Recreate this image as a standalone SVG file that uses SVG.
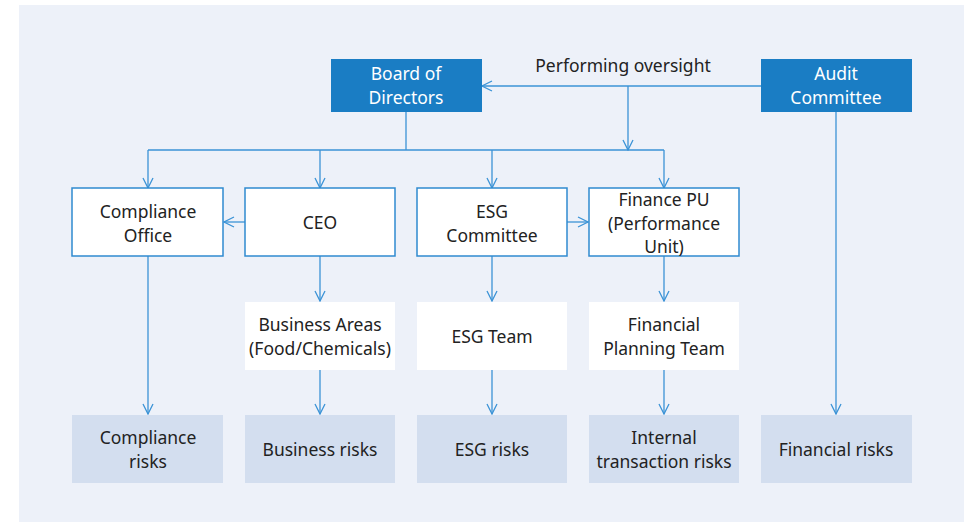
<svg xmlns="http://www.w3.org/2000/svg" width="964" height="523" viewBox="0 0 964 523">
<defs>
<marker id="ah" viewBox="0 0 12 12" refX="11" refY="6" markerWidth="12" markerHeight="12" markerUnits="userSpaceOnUse" orient="auto">
<path d="M1,1 L11,6 L1,11" fill="none" stroke="#3b93d6" stroke-width="1.3"/>
</marker>
</defs>
<style>
text{font-family:"Noto Sans","Open Sans","Liberation Sans",sans-serif;font-size:17.5px;fill:#222;text-anchor:middle}
.dark rect{fill:#1a7dc4}
.dark text{fill:#fff}
.out rect{fill:#fff;stroke:#2f8ad0;stroke-width:1.5}
.plain rect{fill:#fff}
.risk rect{fill:#d3deef}
#connectors path{fill:none;stroke:#3b93d6;stroke-width:1.3}
</style>
<rect x="19" y="5" width="945" height="517" fill="#edf1f9"/>
<text x="623" y="72">Performing oversight</text>
<g id="connectors">
<path d="M761,86 H482" marker-end="url(#ah)"/>
<path d="M628,86 V150" marker-end="url(#ah)"/>
<path d="M406,112 V150 M148,150 H664"/>
<path d="M148,150 V188" marker-end="url(#ah)"/>
<path d="M320,150 V188" marker-end="url(#ah)"/>
<path d="M492,150 V188" marker-end="url(#ah)"/>
<path d="M664,150 V188" marker-end="url(#ah)"/>
<path d="M245,222 H224" marker-end="url(#ah)"/>
<path d="M567,222 H588" marker-end="url(#ah)"/>
<path d="M148,256 V414" marker-end="url(#ah)"/>
<path d="M320,256 V301" marker-end="url(#ah)"/>
<path d="M492,256 V301" marker-end="url(#ah)"/>
<path d="M664,256 V301" marker-end="url(#ah)"/>
<path d="M320,370 V414" marker-end="url(#ah)"/>
<path d="M492,370 V414" marker-end="url(#ah)"/>
<path d="M664,370 V414" marker-end="url(#ah)"/>
<path d="M836,112 V414" marker-end="url(#ah)"/>
</g>
<g id="board" class="dark"><rect x="331" y="59" width="151" height="53"/><text x="406" y="80">Board of</text><text x="406" y="104">Directors</text></g>
<g id="audit" class="dark"><rect x="761" y="59" width="151" height="53"/><text x="836" y="80">Audit</text><text x="836" y="104">Committee</text></g>
<g id="compliance-office" class="out"><rect x="72" y="188" width="151" height="68"/><text x="148" y="218">Compliance</text><text x="148" y="242">Office</text></g>
<g id="ceo" class="out"><rect x="245" y="188" width="150" height="68"/><text x="320" y="229">CEO</text></g>
<g id="esg-committee" class="out"><rect x="417" y="188" width="150" height="68"/><text x="492" y="218">ESG</text><text x="492" y="242">Committee</text></g>
<g id="finance-pu" class="out"><rect x="589" y="188" width="150" height="68"/><text x="664" y="206">Finance PU</text><text x="664" y="230">(Performance</text><text x="664" y="253">Unit)</text></g>
<g id="business-areas" class="plain"><rect x="245" y="302" width="150" height="68"/><text x="320" y="331">Business Areas</text><text x="320" y="355">(Food/Chemicals)</text></g>
<g id="esg-team" class="plain"><rect x="417" y="302" width="150" height="68"/><text x="492" y="343">ESG Team</text></g>
<g id="fin-planning" class="plain"><rect x="589" y="302" width="150" height="68"/><text x="664" y="331">Financial</text><text x="664" y="355">Planning Team</text></g>
<g id="compliance-risks" class="risk"><rect x="72" y="415" width="151" height="68"/><text x="148" y="444">Compliance</text><text x="148" y="468">risks</text></g>
<g id="business-risks" class="risk"><rect x="245" y="415" width="150" height="68"/><text x="320" y="456">Business risks</text></g>
<g id="esg-risks" class="risk"><rect x="417" y="415" width="150" height="68"/><text x="492" y="456">ESG risks</text></g>
<g id="internal-risks" class="risk"><rect x="589" y="415" width="150" height="68"/><text x="664" y="444">Internal</text><text x="664" y="468">transaction risks</text></g>
<g id="financial-risks" class="risk"><rect x="761" y="415" width="151" height="68"/><text x="836" y="456">Financial risks</text></g>
</svg>
